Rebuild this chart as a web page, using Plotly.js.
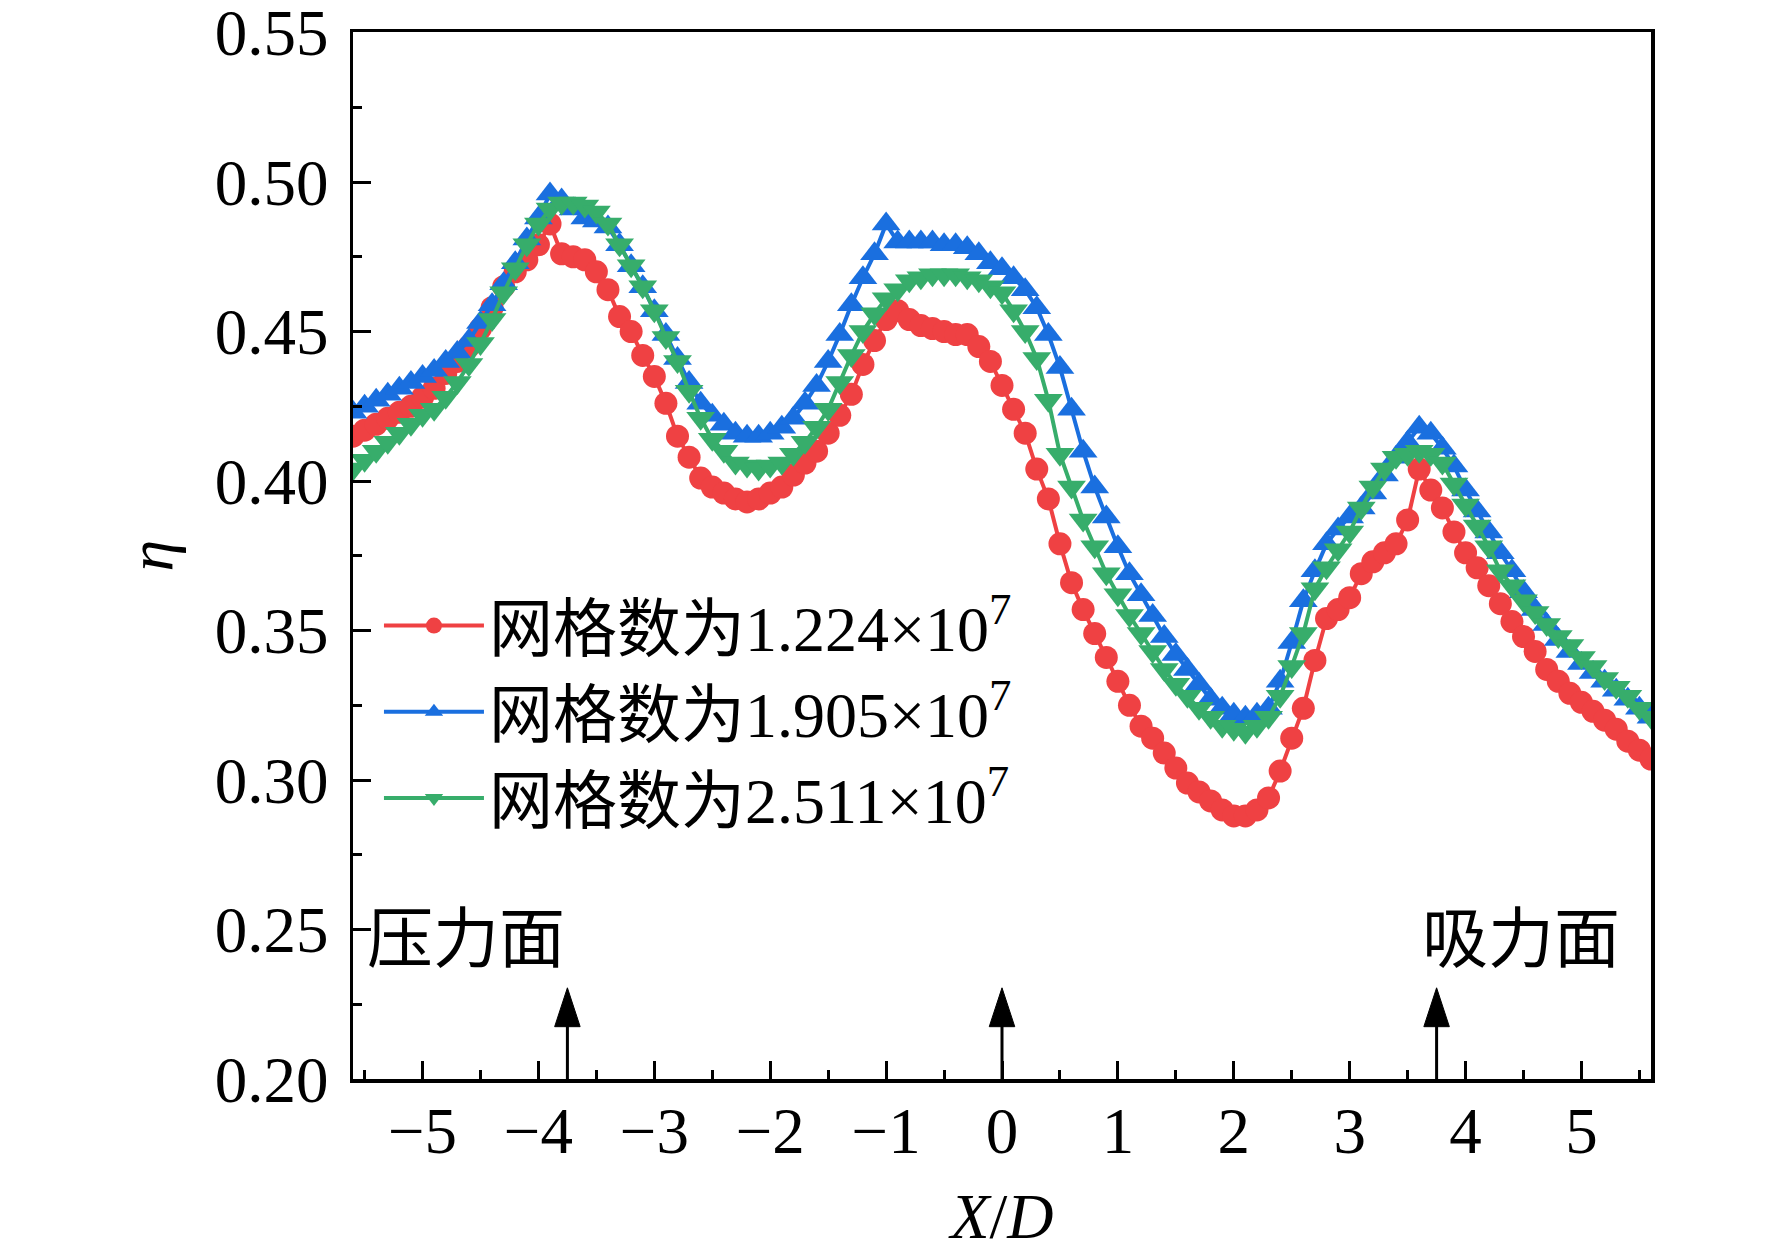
<!DOCTYPE html>
<html>
<head>
<meta charset="utf-8">
<script src="https://cdn.plot.ly/plotly-3.0.1.min.js"></script>
<style>
  html, body { margin: 0; padding: 0; background: #fff; }
  #chart { width: 1772px; height: 1252px; }
</style>
</head>
<body>
<div id="chart"></div>
<script>
// X/D positions along the line
const xd = [-5.6,-5.5,-5.4,-5.3,-5.2,-5.1,-5.0,-4.9,-4.8,-4.7,-4.6,-4.5,-4.4,-4.3,-4.2,-4.1,-4.0,-3.9,-3.8,-3.7,
  -3.6,-3.5,-3.4,-3.3,-3.2,-3.1,-3.0,-2.9,-2.8,-2.7,-2.6,-2.5,-2.4,-2.3,-2.2,-2.1,-2.0,-1.9,-1.8,-1.7,
  -1.6,-1.5,-1.4,-1.3,-1.2,-1.1,-1.0,-0.9,-0.8,-0.7,-0.6,-0.5,-0.4,-0.3,-0.2,-0.1,0.0,0.1,0.2,0.3,
  0.4,0.5,0.6,0.7,0.8,0.9,1.0,1.1,1.2,1.3,1.4,1.5,1.6,1.7,1.8,1.9,2.0,2.1,2.2,2.3,
  2.4,2.5,2.6,2.7,2.8,2.9,3.0,3.1,3.2,3.3,3.4,3.5,3.6,3.7,3.8,3.9,4.0,4.1,4.2,4.3,
  4.4,4.5,4.6,4.7,4.8,4.9,5.0,5.1,5.2,5.3,5.4,5.5,5.6];

// grid 1.224e7
const etaGrid1 = [0.415,0.417,0.419,0.421,0.423,0.425,0.428,0.431,0.436,0.440,0.445,0.451,0.458,0.465,0.470,0.474,0.479,0.486,0.476,0.475,
  0.474,0.470,0.464,0.455,0.450,0.442,0.435,0.426,0.415,0.408,0.401,0.398,0.396,0.394,0.393,0.394,0.396,0.398,0.402,0.406,
  0.410,0.416,0.422,0.429,0.439,0.447,0.454,0.457,0.454,0.452,0.451,0.450,0.449,0.449,0.445,0.440,0.432,0.424,0.416,0.404,
  0.394,0.379,0.366,0.357,0.349,0.341,0.333,0.325,0.318,0.314,0.309,0.304,0.299,0.296,0.293,0.290,0.288,0.288,0.290,0.294,
  0.303,0.314,0.324,0.340,0.354,0.357,0.361,0.369,0.373,0.376,0.379,0.387,0.404,0.397,0.391,0.383,0.376,0.371,0.365,0.359,
  0.353,0.348,0.343,0.337,0.333,0.329,0.326,0.323,0.320,0.317,0.313,0.310,0.307];

// grid 1.905e7
const etaGrid2 = [0.423,0.425,0.427,0.429,0.431,0.433,0.435,0.437,0.440,0.443,0.447,0.453,0.459,0.466,0.473,0.481,0.488,0.496,0.494,0.491,
  0.488,0.487,0.485,0.479,0.472,0.465,0.457,0.449,0.441,0.433,0.426,0.422,0.419,0.416,0.415,0.415,0.416,0.418,0.421,0.426,
  0.432,0.440,0.449,0.459,0.468,0.476,0.486,0.480,0.480,0.480,0.480,0.479,0.479,0.478,0.476,0.473,0.471,0.468,0.464,0.458,
  0.449,0.438,0.424,0.410,0.398,0.388,0.378,0.369,0.362,0.355,0.348,0.342,0.337,0.332,0.327,0.324,0.322,0.321,0.322,0.324,
  0.333,0.346,0.360,0.370,0.379,0.384,0.388,0.391,0.396,0.402,0.408,0.413,0.418,0.416,0.411,0.405,0.397,0.390,0.383,0.376,
  0.370,0.363,0.357,0.352,0.347,0.343,0.339,0.336,0.333,0.330,0.327,0.324,0.321];

// grid 2.511e7
const etaGrid3 = [0.404,0.407,0.410,0.413,0.416,0.419,0.422,0.424,0.428,0.433,0.439,0.446,0.454,0.463,0.471,0.479,0.486,0.491,0.493,0.493,
  0.492,0.490,0.486,0.479,0.472,0.465,0.457,0.448,0.440,0.430,0.421,0.414,0.410,0.406,0.405,0.404,0.405,0.406,0.409,0.413,
  0.418,0.424,0.433,0.442,0.450,0.456,0.461,0.464,0.467,0.468,0.469,0.469,0.469,0.468,0.467,0.465,0.463,0.457,0.450,0.441,
  0.427,0.409,0.398,0.387,0.378,0.369,0.362,0.355,0.349,0.343,0.337,0.332,0.328,0.324,0.321,0.318,0.317,0.316,0.318,0.321,
  0.328,0.338,0.349,0.364,0.371,0.377,0.383,0.391,0.398,0.404,0.408,0.409,0.410,0.409,0.406,0.399,0.392,0.385,0.378,0.370,
  0.365,0.360,0.356,0.352,0.348,0.345,0.341,0.338,0.334,0.331,0.328,0.324,0.321];

const seriesNames = ['网格数为1.224×10<sup>7</sup>', '网格数为1.905×10<sup>7</sup>', '网格数为2.511×10<sup>7</sup>'];
const yTicks = [0.20, 0.25, 0.30, 0.35, 0.40, 0.45, 0.50, 0.55];
const arrowX = [-3.75, 0, 3.75];
const sideLabels = ['压力面', '吸力面'];

const serif = 'Liberation Serif, Times New Roman, Noto Sans CJK SC, serif';
const red = 'rgb(239,65,67)', blue = 'rgb(26,111,223)', green = 'rgb(55,173,107)';

const traces = [
  { x: xd, y: etaGrid1, name: seriesNames[0], type: 'scatter', mode: 'lines+markers',
    line: { color: red, width: 4 }, marker: { symbol: 'circle', size: 23, color: red } },
  { x: xd, y: etaGrid2, name: seriesNames[1], type: 'scatter', mode: 'lines+markers',
    line: { color: blue, width: 4 }, marker: { symbol: 'triangle-up', size: 25, color: blue } },
  { x: xd, y: etaGrid3, name: seriesNames[2], type: 'scatter', mode: 'lines+markers',
    line: { color: green, width: 4 }, marker: { symbol: 'triangle-down', size: 25, color: green } }
];

// arrows: shaft + filled head
const shapes = [];
arrowX.forEach(ax => {
  shapes.push({ type: 'line', xref: 'x', yref: 'y', x0: ax, x1: ax, y0: 0.2, y1: 0.219,
    line: { color: 'black', width: 3 } });
  shapes.push({ type: 'path', xref: 'x', yref: 'y',
    path: `M ${ax - 0.11} 0.2175 L ${ax + 0.11} 0.2175 L ${ax} 0.2305 Z`,
    fillcolor: 'black', line: { color: 'black', width: 1 } });
});

const axisCommon = {
  showgrid: false, zeroline: false, showline: true, linecolor: 'black', linewidth: 3.5, mirror: true,
  ticks: 'inside', ticklen: 18, tickwidth: 3, tickcolor: 'black', ticklabeloverflow: 'allow',
  tickfont: { family: serif, size: 65, color: 'black' }
};

const layout = {
  width: 1772, height: 1252, autosize: false,
  paper_bgcolor: 'white', plot_bgcolor: 'white',
  margin: { l: 353, r: 121, t: 32, b: 173 },
  font: { family: serif, color: 'black' },
  xaxis: Object.assign({}, axisCommon, {
    range: [-5.6, 5.6], tick0: 0, dtick: 1, ticklabelstandoff: -8,
    minor: { ticks: 'inside', ticklen: 9, tickwidth: 3, tickcolor: 'black', dtick: 0.5 },
    title: { text: '<i>X</i>/<i>D</i>', font: { family: serif, size: 64 }, standoff: 28 }
  }),
  yaxis: Object.assign({}, axisCommon, {
    range: [0.2, 0.5502], tickmode: 'array', tickvals: yTicks, ticktext: yTicks.map(v => v.toFixed(2)),
    ticklabelstandoff: 8,
    minor: { ticks: 'inside', ticklen: 9, tickwidth: 3, tickcolor: 'black', tick0: 0.2, dtick: 0.025 },
    title: { text: '<i>η</i>', font: { family: serif, size: 64 }, standoff: 22 }
  }),
  legend: {
    x: 0.02, y: 0.479, xanchor: 'left', yanchor: 'top',
    bgcolor: 'rgba(0,0,0,0)', itemwidth: 100, tracegroupgap: 0,
    font: { family: serif, size: 64, color: 'black' }
  },
  shapes: shapes,
  annotations: [
    { xref: 'x', yref: 'y', x: -5.5, y: 0.2465, xanchor: 'left', yanchor: 'middle', showarrow: false,
      text: sideLabels[0], font: { family: serif, size: 66, color: 'black' } },
    { xref: 'x', yref: 'y', x: 5.35, y: 0.2465, xanchor: 'right', yanchor: 'middle', showarrow: false,
      text: sideLabels[1], font: { family: serif, size: 66, color: 'black' } }
  ],
  showlegend: true
};

Plotly.newPlot('chart', traces, layout, { displayModeBar: false, staticPlot: true });
</script>
</body>
</html>
